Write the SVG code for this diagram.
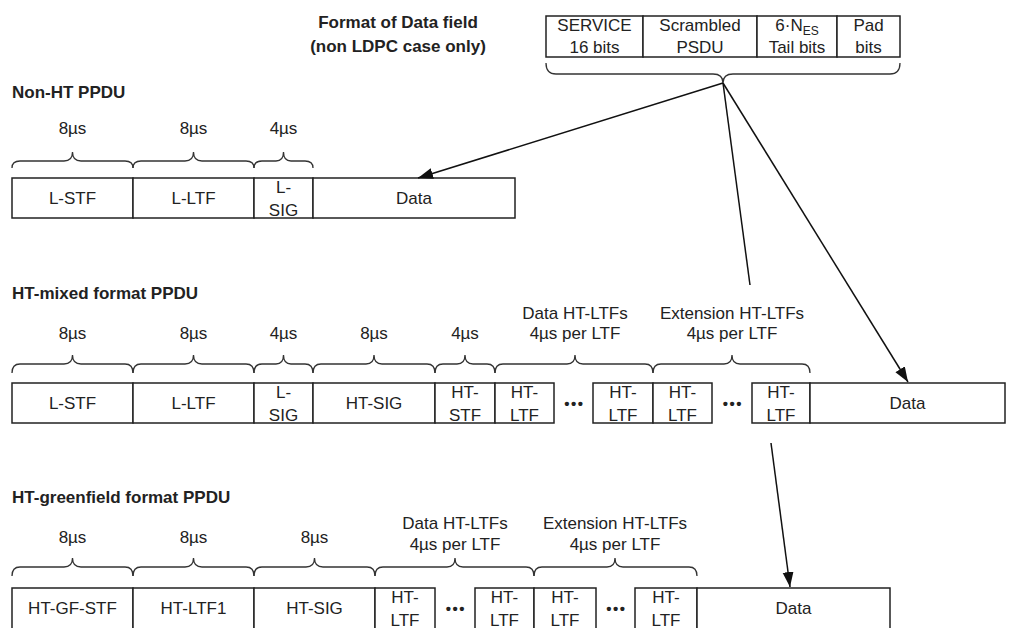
<svg xmlns="http://www.w3.org/2000/svg" width="1012" height="628" viewBox="0 0 1012 628">
<defs>
<marker id="ah" markerUnits="userSpaceOnUse" markerWidth="16" markerHeight="12" refX="15" refY="5.5" orient="auto">
<path d="M0,0 L15,5.5 L0,11 z" fill="#111"/>
</marker>
<style>
text{font-family:"Liberation Sans",Arial,sans-serif;font-size:17px;fill:#222;text-anchor:middle}
.t{font-weight:bold;text-anchor:start}
.tc{font-weight:bold}
.box{fill:#fff;stroke:#222;stroke-width:1.5}
.br{fill:none;stroke:#333;stroke-width:1.3}
.ln{fill:none;stroke:#111;stroke-width:1.5}
.dots{font-size:15px;font-weight:bold;letter-spacing:1.5px}
.sub{font-size:12px}
</style>
</defs>
<rect width="1012" height="628" fill="#fff"/>

<g id="title-format">
<text class="tc" x="398" y="28">Format of Data field</text>
<text class="tc" x="398" y="52">(non LDPC case only)</text>
</g>

<g id="data-field">
<rect class="box" x="546" y="16" width="97" height="41"/>
<rect class="box" x="643" y="16" width="114" height="41"/>
<rect class="box" x="757" y="16" width="80" height="41"/>
<rect class="box" x="837" y="16" width="63" height="41"/>
<text x="594.5" y="31">SERVICE</text><text x="594.5" y="53">16 bits</text>
<text x="700" y="31">Scrambled</text><text x="700" y="53">PSDU</text>
<text x="797" y="31">6·N<tspan class="sub" dy="4">ES</tspan></text><text x="797" y="53">Tail bits</text>
<text x="868.5" y="31">Pad</text><text x="868.5" y="53">bits</text>
<path class="br" d="M546,63 Q546,74 556,74 L713,74 Q723,74 723,83 Q723,74 733,74 L890,74 Q900,74 900,63"/>
</g>

<g id="non-ht">
<text class="t" x="12" y="98">Non-HT PPDU</text>
<text x="72.5" y="134">8µs</text>
<text x="193.5" y="134">8µs</text>
<text x="283.5" y="134">4µs</text>
<path class="br" d="M12,168 Q12,161 20,161 L64,161 Q72.5,161 72.5,152 Q72.5,161 81,161 L125,161 Q133,161 133,168"/>
<path class="br" d="M133,168 Q133,161 141,161 L185,161 Q193.5,161 193.5,152 Q193.5,161 202,161 L246,161 Q254,161 254,168"/>
<path class="br" d="M254,168 Q254,161 262,161 L276,161 Q283.5,161 283.5,152 Q283.5,161 291,161 L305,161 Q313,161 313,168"/>
<rect class="box" x="12" y="178" width="121" height="40"/>
<rect class="box" x="133" y="178" width="121" height="40"/>
<rect class="box" x="254" y="178" width="59" height="40"/>
<rect class="box" x="313" y="178" width="202" height="40"/>
<text x="72.5" y="204">L-STF</text>
<text x="193.5" y="204">L-LTF</text>
<text x="283.5" y="193">L-</text><text x="283.5" y="216">SIG</text>
<text x="414" y="204">Data</text>
</g>

<g id="ht-mixed">
<text class="t" x="12" y="299">HT-mixed format PPDU</text>
<text x="72.5" y="339">8µs</text>
<text x="193.5" y="339">8µs</text>
<text x="283.5" y="339">4µs</text>
<text x="374" y="339">8µs</text>
<text x="465" y="339">4µs</text>
<text x="575" y="319">Data HT-LTFs</text><text x="575" y="339">4µs per LTF</text>
<text x="732" y="319">Extension HT-LTFs</text><text x="732" y="339">4µs per LTF</text>
<path class="br" d="M12,373 Q12,364 20,364 L64,364 Q72.5,364 72.5,355 Q72.5,364 81,364 L125,364 Q133,364 133,373"/>
<path class="br" d="M133,373 Q133,364 141,364 L185,364 Q193.5,364 193.5,355 Q193.5,364 202,364 L246,364 Q254,364 254,373"/>
<path class="br" d="M254,373 Q254,364 262,364 L276,364 Q283.5,364 283.5,355 Q283.5,364 291,364 L305,364 Q313,364 313,373"/>
<path class="br" d="M313,373 Q313,364 321,364 L366,364 Q374,364 374,355 Q374,364 382,364 L427,364 Q435,364 435,373"/>
<path class="br" d="M435,373 Q435,364 443,364 L457,364 Q465,364 465,355 Q465,364 473,364 L487,364 Q495,364 495,373"/>
<path class="br" d="M495,373 Q495,364 503,364 L567,364 Q575,364 575,355 Q575,364 583,364 L645,364 Q653,364 653,373"/>
<path class="br" d="M653,373 Q653,364 661,364 L724,364 Q732,364 732,355 Q732,364 740,364 L802,364 Q810,364 810,373"/>
<rect class="box" x="12" y="383" width="121" height="40"/>
<rect class="box" x="133" y="383" width="121" height="40"/>
<rect class="box" x="254" y="383" width="59" height="40"/>
<rect class="box" x="313" y="383" width="122" height="40"/>
<rect class="box" x="435" y="383" width="60" height="40"/>
<rect class="box" x="495" y="383" width="59" height="40"/>
<rect class="box" x="593" y="383" width="60" height="40"/>
<rect class="box" x="653" y="383" width="59" height="40"/>
<rect class="box" x="752" y="383" width="58" height="40"/>
<rect class="box" x="810" y="383" width="195" height="40"/>
<text x="72.5" y="409">L-STF</text>
<text x="193.5" y="409">L-LTF</text>
<text x="283.5" y="398">L-</text><text x="283.5" y="421">SIG</text>
<text x="374" y="409">HT-SIG</text>
<text x="465" y="398">HT-</text><text x="465" y="421">STF</text>
<text x="524.5" y="398">HT-</text><text x="524.5" y="421">LTF</text>
<text class="dots" x="574.5" y="409">•••</text>
<text x="623" y="398">HT-</text><text x="623" y="421">LTF</text>
<text x="682.5" y="398">HT-</text><text x="682.5" y="421">LTF</text>
<text class="dots" x="733" y="409">•••</text>
<text x="781" y="398">HT-</text><text x="781" y="421">LTF</text>
<text x="907.5" y="409">Data</text>
</g>

<g id="ht-greenfield">
<text class="t" x="12" y="503">HT-greenfield format PPDU</text>
<text x="72.5" y="543">8µs</text>
<text x="193.5" y="543">8µs</text>
<text x="314.5" y="543">8µs</text>
<text x="455" y="529">Data HT-LTFs</text><text x="455" y="550">4µs per LTF</text>
<text x="615" y="529">Extension HT-LTFs</text><text x="615" y="550">4µs per LTF</text>
<path class="br" d="M12,576 Q12,567 20,567 L64,567 Q72.5,567 72.5,558 Q72.5,567 81,567 L125,567 Q133,567 133,576"/>
<path class="br" d="M133,576 Q133,567 141,567 L185,567 Q193.5,567 193.5,558 Q193.5,567 202,567 L246,567 Q254,567 254,576"/>
<path class="br" d="M254,576 Q254,567 262,567 L306,567 Q314.5,567 314.5,558 Q314.5,567 323,567 L367,567 Q375,567 375,576"/>
<path class="br" d="M375,576 Q375,567 383,567 L447,567 Q455,567 455,558 Q455,567 463,567 L526,567 Q534,567 534,576"/>
<path class="br" d="M534,576 Q534,567 542,567 L607,567 Q615,567 615,558 Q615,567 623,567 L689,567 Q697,567 697,576"/>
<rect class="box" x="12" y="588" width="121" height="42"/>
<rect class="box" x="133" y="588" width="121" height="42"/>
<rect class="box" x="254" y="588" width="121" height="42"/>
<rect class="box" x="375" y="588" width="60" height="42"/>
<rect class="box" x="475" y="588" width="59" height="42"/>
<rect class="box" x="534" y="588" width="62" height="42"/>
<rect class="box" x="635" y="588" width="62" height="42"/>
<rect class="box" x="697" y="588" width="193" height="42"/>
<text x="72.5" y="614">HT-GF-STF</text>
<text x="193.5" y="614">HT-LTF1</text>
<text x="314.5" y="614">HT-SIG</text>
<text x="405" y="603">HT-</text><text x="405" y="626">LTF</text>
<text class="dots" x="456" y="614">•••</text>
<text x="504.5" y="603">HT-</text><text x="504.5" y="626">LTF</text>
<text x="565" y="603">HT-</text><text x="565" y="626">LTF</text>
<text class="dots" x="616.5" y="614">•••</text>
<text x="666" y="603">HT-</text><text x="666" y="626">LTF</text>
<text x="793.5" y="614">Data</text>
</g>

<g id="connectors">
<line class="ln" x1="723" y1="83" x2="418" y2="178" marker-end="url(#ah)"/>
<line class="ln" x1="723" y1="83" x2="750" y2="285"/>
<line class="ln" x1="771" y1="443" x2="790" y2="587" marker-end="url(#ah)"/>
<line class="ln" x1="723" y1="83" x2="908" y2="382" marker-end="url(#ah)"/>
</g>
</svg>
